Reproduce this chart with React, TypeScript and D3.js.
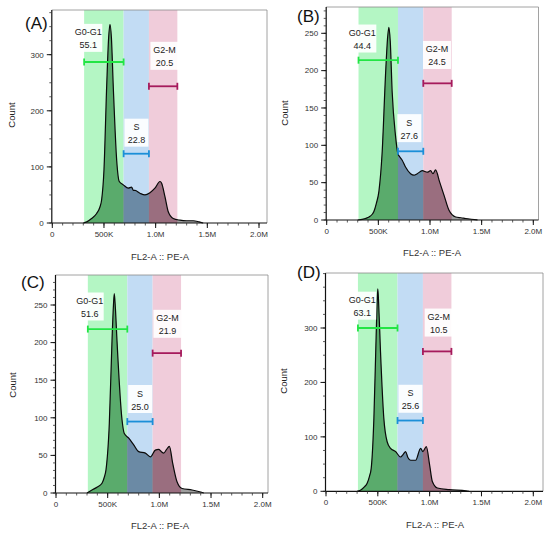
import React from 'react';
import * as d3 from 'd3';

// FL2-A in thousands, counts
const xA = [300, 333, 380, 429, 460, 477, 500, 526, 545, 558, 572, 590, 623, 648, 687, 735, 767, 785, 800, 848, 897, 945, 993, 1042, 1058, 1090, 1122, 1170, 1235, 1300, 1364, 1420, 1460];
const cA = [0, 2, 8, 17, 28, 41, 95, 243, 330, 354, 330, 243, 112, 74, 68, 62, 64, 58, 58, 53, 50, 54, 62, 74, 71, 47, 20, 8, 5, 4, 4, 2, 0];

const xB = [300, 375, 420, 456, 480, 505, 537, 569, 590, 602, 615, 634, 666, 689, 710, 731, 763, 812, 845, 877, 925, 974, 1006, 1029, 1054, 1093, 1136, 1184, 1249, 1300, 1346, 1400, 1460];
const cB = [0, 2, 5, 11, 22, 38, 91, 193, 245, 258, 240, 171, 113, 89, 84, 80, 71, 62, 60, 62, 66, 64, 66, 62, 67, 51, 33, 13, 4, 3, 2, 1, 0];

const xC = [300, 348, 400, 445, 465, 484, 516, 542, 556, 564, 575, 590, 639, 661, 704, 752, 800, 865, 913, 961, 993, 1020, 1042, 1070, 1097, 1130, 1171, 1220, 1317, 1380, 1430];
const cC = [0, 4, 8, 13, 20, 31, 93, 203, 250, 265, 245, 203, 97, 79, 73, 64, 55, 53, 48, 57, 58, 55, 53, 58, 62, 39, 15, 6, 4, 2, 0];

const xD = [300, 332, 370, 397, 420, 436, 462, 484, 494, 500, 508, 526, 558, 590, 623, 671, 719, 745, 768, 790, 816, 865, 913, 935, 968, 1000, 1026, 1075, 1188, 1350, 1380];
const cD = [0, 2, 8, 15, 28, 42, 134, 287, 350, 372, 345, 256, 134, 91, 79, 73, 63, 68, 73, 62, 57, 57, 79, 73, 82, 48, 18, 6, 3, 1, 0];

const gateNames = ['G0-G1', 'S', 'G2-M'];
const gateRanges = [[308, 690], [690, 935], [935, 1210]];
const pctA = ['55.1', '22.8', '20.5'];
const pctB = ['44.4', '27.6', '24.5'];
const pctC = ['51.6', '25.0', '21.9'];
const pctD = ['63.1', '25.6', '10.5'];

const xTicks = [0, 500, 1000, 1500, 2000];
const xTickLabels = ['0', '500K', '1.0M', '1.5M', '2.0M'];
const yTicksAD = [0, 100, 200, 300];
const yTicksBC = [0, 50, 100, 150, 200, 250];

const bandFill = ['#b4f6c4', '#c2dcf4', '#f0ccda'];
const areaFill = ['#5aab6c', '#6b8aa5', '#9a6e7f'];
const gateColor = ['#22e544', '#1b8fd8', '#a61a5c'];

const font = '"Liberation Sans", Arial, sans-serif';

// layout of the four panels (screen px)
const panels = [
  { id: 'A', xs: xA, ys: cA, pct: pctA, yTicks: yTicksAD, yMinor: 25, yTop: 300,
    x0: 52.3, x2M: 259, right: 267, top: 10, y0: 223, yTopPx: 54.7,
    bars: [287, 123.5, 243.7], boxes: [[348, 330], [814, 161], [1085, 298]],
    tag: [25, 29], count: [12, 115], xlab: [160, 260] },
  { id: 'B', xs: xB, ys: cB, pct: pctB, yTicks: yTicksBC, yMinor: 10, yTop: 250,
    x0: 326.7, x2M: 533.3, right: 538.5, top: 7, y0: 220, yTopPx: 33.3,
    bars: [214, 92, 183], boxes: [[345, 243], [800, 123], [1068, 221]],
    tag: [297, 22], count: [285, 113], xlab: [432, 256] },
  { id: 'C', xs: xC, ys: cC, pct: pctC, yTicks: yTicksBC, yMinor: 10, yTop: 250,
    x0: 56, x2M: 262.7, right: 268, top: 275, y0: 493, yTopPx: 305,
    bars: [218, 95, 186], boxes: [[326, 248], [814, 125], [1078, 225]],
    tag: [21, 288], count: [13, 385], xlab: [160, 529] },
  { id: 'D', xs: xD, ys: cD, pct: pctD, yTicks: yTicksAD, yMinor: 25, yTop: 300,
    x0: 326, x2M: 533.3, right: 543, top: 273, y0: 491.3, yTopPx: 328,
    bars: [300, 130, 257], boxes: [[349, 341], [815, 170], [1087, 310]],
    tag: [297, 278], count: [284, 381], xlab: [435, 528] },
];

function Panel({ p }) {
  const x = d3.scaleLinear().domain([0, 2000]).range([p.x0, p.x2M]);
  const y = d3.scaleLinear().domain([0, p.yTop]).range([p.y0, p.yTopPx]);
  const left = p.x0 - 0.5;
  const pts = p.xs.map((v, i) => [v, p.ys[i]]);
  const area = d3.area()
    .x((d) => x(d[0]))
    .y0(y(0))
    .y1((d) => y(d[1]))
    .curve(d3.curveMonotoneX);
  const line = d3.line()
    .x((d) => x(d[0]))
    .y((d) => y(d[1]))
    .curve(d3.curveMonotoneX);
  const d = area(pts);
  const yMaxVal = y.invert(p.top);
  const minorY = d3.range(0, yMaxVal, p.yMinor);
  const minorX = d3.range(0, x.invert(p.right), 100);

  return (
    <g>
      <defs>
        {gateRanges.map((g, i) => (
          <clipPath id={`clip${p.id}${i}`} key={i}>
            <rect x={x(g[0])} y={p.top} width={x(g[1]) - x(g[0])} height={p.y0 - p.top} />
          </clipPath>
        ))}
      </defs>
      {gateRanges.map((g, i) => (
        <rect key={i} x={x(g[0])} y={p.top} width={x(g[1]) - x(g[0])} height={p.y0 - p.top} fill={bandFill[i]} />
      ))}
      <path d={d} fill="#9e9e9e" />
      {gateRanges.map((g, i) => (
        <path key={i} d={d} fill={areaFill[i]} clipPath={`url(#clip${p.id}${i})`} />
      ))}
      <path d={line(pts)} fill="none" stroke="#0a0a0a" strokeWidth={1.2} />

      {/* gate markers */}
      {gateRanges.map((g, i) => {
        const yy = y(p.bars[i]);
        return (
          <g key={i} stroke={gateColor[i]} strokeWidth={1.8}>
            <line x1={x(g[0])} x2={x(g[1])} y1={yy} y2={yy} />
            <line x1={x(g[0])} x2={x(g[0])} y1={yy - 3.5} y2={yy + 3.5} />
            <line x1={x(g[1])} x2={x(g[1])} y1={yy - 3.5} y2={yy + 3.5} />
          </g>
        );
      })}
      {gateNames.map((n, i) => {
        const cx = x(p.boxes[i][0]);
        const cy = y(p.boxes[i][1]);
        const w = i === 1 ? 24 : 28;
        return (
          <g key={n} fontFamily={font} fontSize={9} fill="#222" textAnchor="middle">
            <rect x={cx - w / 2} y={cy - 14} width={w} height={28} fill="#fff" opacity={0.92} />
            <text x={cx} y={cy - 2.5}>{n}</text>
            <text x={cx} y={cy + 10.5}>{p.pct[i]}</text>
          </g>
        );
      })}

      {/* frame */}
      <line x1={left} x2={p.right} y1={p.top} y2={p.top} stroke="#8a8a8a" strokeWidth={0.8} />
      <line x1={p.right} x2={p.right} y1={p.top} y2={p.y0} stroke="#8a8a8a" strokeWidth={0.8} />
      <line x1={left} x2={left} y1={p.top} y2={p.y0} stroke="#111" strokeWidth={1.2} />
      <line x1={left} x2={p.right} y1={p.y0} y2={p.y0} stroke="#111" strokeWidth={1.2} />

      {/* y ticks */}
      {minorY.map((v) => (
        <line key={v} x1={left} x2={left - 2.5} y1={y(v)} y2={y(v)} stroke="#333" strokeWidth={0.8} />
      ))}
      {p.yTicks.map((v) => (
        <g key={v}>
          <line x1={left} x2={left - 5} y1={y(v)} y2={y(v)} stroke="#111" strokeWidth={1} />
          <text x={left - 8} y={y(v) + 2.8} textAnchor="end" fontFamily={font} fontSize={8} fill="#333">{v}</text>
        </g>
      ))}
      {/* x ticks */}
      {minorX.map((v) => (
        <line key={v} x1={x(v)} x2={x(v)} y1={p.y0} y2={p.y0 + 2.5} stroke="#333" strokeWidth={0.8} />
      ))}
      {xTicks.map((v, i) => (
        <g key={v}>
          <line x1={x(v)} x2={x(v)} y1={p.y0} y2={p.y0 + 5} stroke="#111" strokeWidth={1} />
          <text x={x(v)} y={p.y0 + 14} textAnchor="middle" fontFamily={font} fontSize={8} fill="#333">{xTickLabels[i]}</text>
        </g>
      ))}

      <text x={p.xlab[0]} y={p.xlab[1]} textAnchor="middle" fontFamily={font} fontSize={9.5} fill="#333">FL2-A :: PE-A</text>
      <text transform={`translate(${p.count[0] + 3},${p.count[1]}) rotate(-90)`} textAnchor="middle" fontFamily={font} fontSize={9.5} fill="#222">Count</text>
      <text x={p.tag[0]} y={p.tag[1]} fontFamily={font} fontSize={17} fill="#111">({p.id})</text>
    </g>
  );
}

export default function App() {
  return (
    <svg width={550} height={536} style={{ position: 'absolute', left: 0, top: 0, background: '#fff' }}>
      {panels.map((p) => (
        <Panel key={p.id} p={p} />
      ))}
    </svg>
  );
}
